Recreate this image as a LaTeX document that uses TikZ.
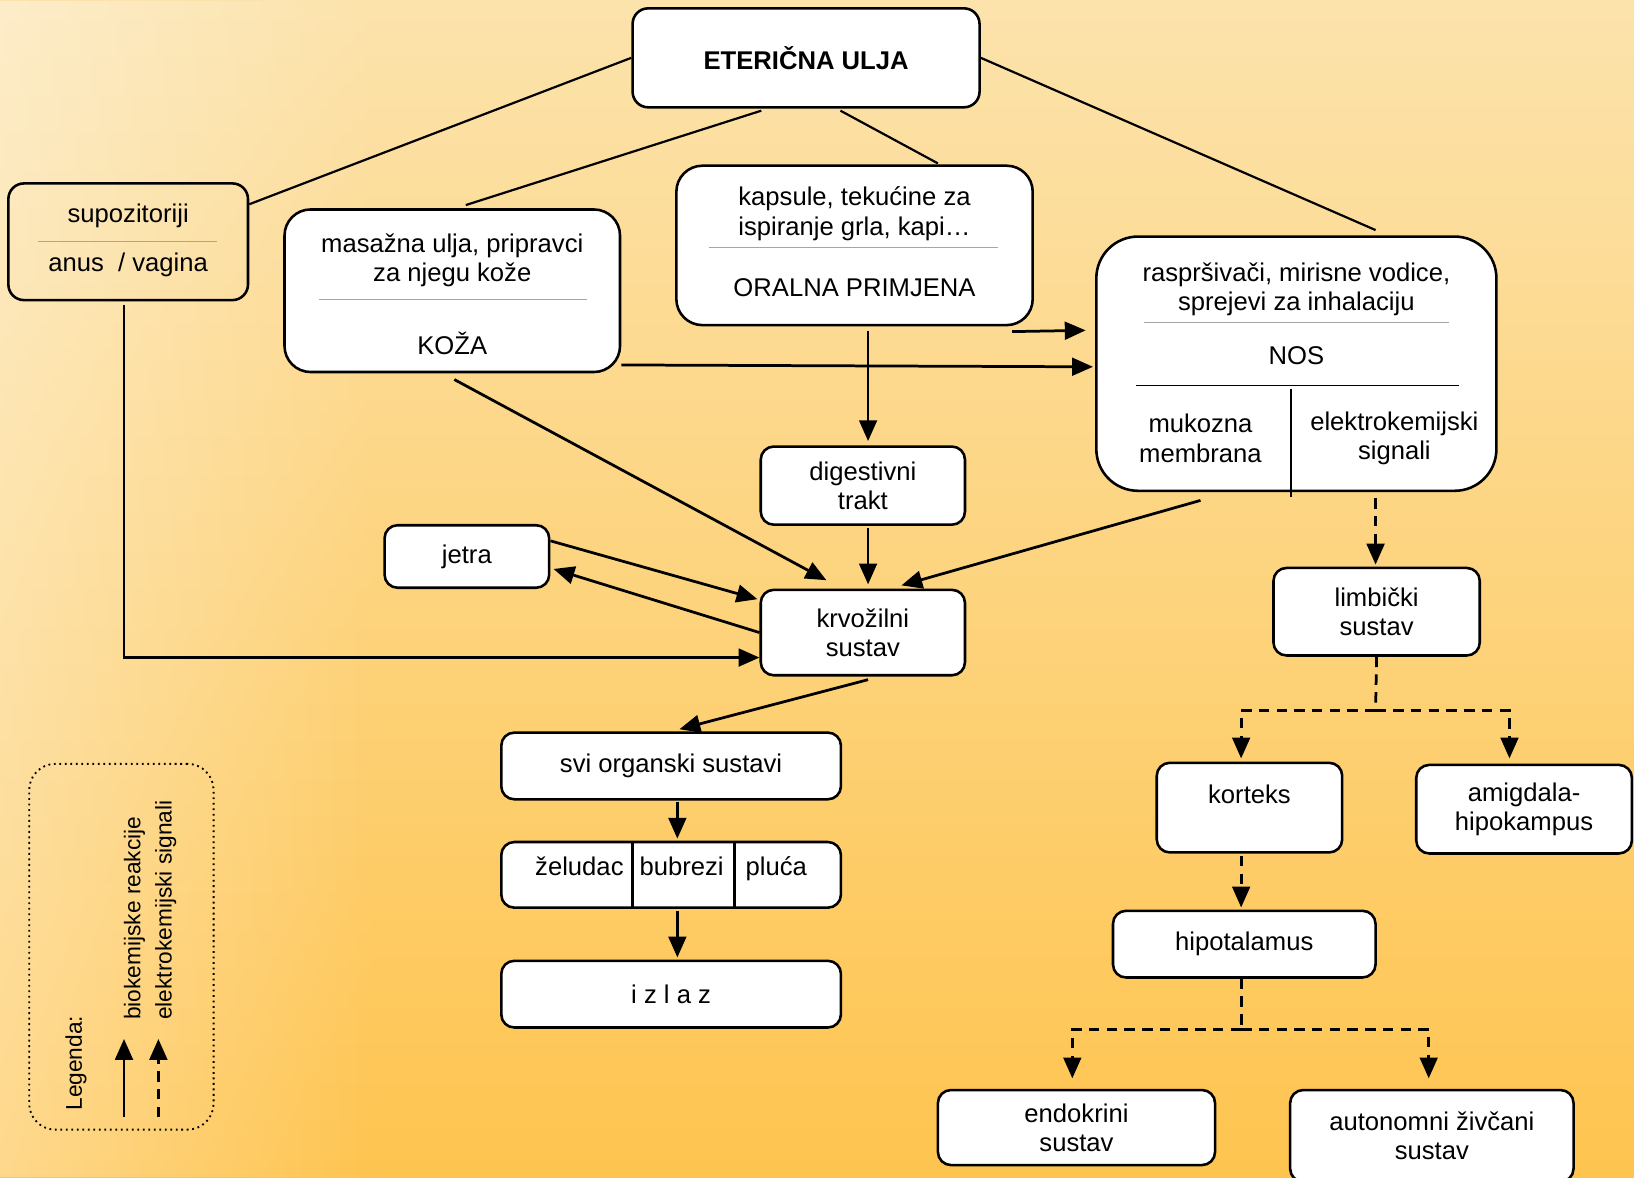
\documentclass[tikz,border=0pt]{standalone}
\usepackage{fontspec}
\setmainfont{Liberation Sans}
\usetikzlibrary{arrows.meta,positioning,calc,fadings}
\definecolor{bgtop}{HTML}{FCE3AC}
\definecolor{bgmid}{HTML}{FDD077}
\definecolor{bgbot}{HTML}{FEC44F}
\newcommand{\diafont}{\fontsize{14}{16}\selectfont}
\newcommand{\legfont}{\fontsize{12.4}{14}\selectfont}

\begin{document}
\begin{tikzpicture}[
  x=0.02cm, y=-0.02cm,
  box/.style={rectangle, draw, line width=1.4pt, fill=white, rounded corners=0.25cm,
    align=center, inner sep=0pt, font=\diafont},
  txt/.style={align=center, inner sep=0pt, font=\diafont},
  cell/.style={txt, text height=1.6ex, text depth=0.4ex},
  sep/.style={gray!70, line width=0.4pt},
  link/.style={line width=1.2pt},
  arr/.style={-{Triangle[length=0.4cm, width=0.34cm]}, line width=1.5pt},
  darr/.style={arr, dash pattern=on 0.2cm off 0.14cm}
]

% Background
\useasboundingbox (0,0) rectangle (1568,1129.5);
\fill[top color=bgtop, middle color=bgmid, bottom color=bgbot] (0,0) rectangle (1568,1129.5);
\fill[white, path fading=east, fill opacity=0.35] (0,0) rectangle (360,1129.5);

% Top
\node[box, rounded corners=0.3cm, minimum width=6.66cm, minimum height=1.9cm,
  font=\diafont\bfseries] (eter) at (773.5,55.5) {ETERIČNA ULJA};

% Routes of application
\node[box, fill=none, rounded corners=0.3cm, minimum width=4.6cm, minimum height=2.24cm] (supo) at (123,232) {};
\node[txt] (supoA) at (123,207) {supozitoriji};
\draw[sep] (36,232) -- (208,232);
\node[txt] (supoB) at (123,254) {anus~ / vagina};

\node[box, rounded corners=0.5cm, minimum width=6.44cm, minimum height=3.12cm] (koza) at (434,279) {};
\node[txt] (kozaA) at (434,250) {masažna ulja, pripravci\\za njegu kože};
\draw[sep] (306,287) -- (563,287);
\node[txt] (kozaB) at (434,330) {KOŽA};

\node[box, rounded corners=0.5cm, minimum width=6.84cm, minimum height=3.06cm] (oral) at (820,235.5) {};
\node[txt] (oralA) at (820,205) {kapsule, tekućine za\\ispiranje grla, kapi…};
\draw[sep] (680,237) -- (958,237);
\node[txt] (oralB) at (820,276) {ORALNA PRIMJENA};

\node[box, rounded corners=0.8cm, minimum width=7.68cm, minimum height=4.88cm] (nos) at (1244,349) {};
\node[txt] (nosA) at (1244,277.5) {raspršivači, mirisne vodice,\\sprejevi za inhalaciju};
\draw[sep] (1098,309) -- (1390,309);
\node[txt] (nosB) at (1244,341) {NOS};
\draw[line width=0.8pt] (1090,370) -- (1400,370);
\draw[line width=1.2pt] (1239,373) -- (1239,477);
\node[txt] (nosC) at (1152,420.5) {mukozna\\membrana};
\node[txt] (nosD) at (1338,420.5) {elektrokemijski\\signali};

% Body
\node[box, minimum width=3.92cm, minimum height=1.5cm] (dig) at (828,466) {digestivni\\trakt};
\node[box, minimum width=3.16cm, minimum height=1.2cm] (jetra) at (448,534) {jetra};
\node[box, minimum width=3.92cm, minimum height=1.64cm] (krv) at (828,607) {krvožilni\\sustav};
\node[box, minimum width=6.52cm, minimum height=1.28cm] (svi) at (644,735) {svi organski sustavi};
\node[box, minimum width=6.52cm, minimum height=1.26cm] (org) at (644,839.5) {};
\node[cell] (zel) at (556,835) {želudac};
\node[cell] (bub) at (654,835) {bubrezi};
\node[cell] (plu) at (745,835) {pluća};
\draw[line width=1.4pt] (607,808) -- (607,871);
\draw[line width=1.4pt] (705,808) -- (705,871);
\node[box, minimum width=6.52cm, minimum height=1.28cm] (izlaz) at (644,954) {i z l a z};

% Brain
\node[box, minimum width=3.96cm, minimum height=1.68cm] (limb) at (1321,587) {limbički\\sustav};
\node[box, minimum width=3.56cm, minimum height=1.72cm] (kort) at (1199,775) {};
\node[txt] (kortA) at (1199,762) {korteks};
\node[box, minimum width=4.14cm, minimum height=1.7cm] (amig) at (1462.5,776.5) {amigdala-\\hipokampus};
\node[box, minimum width=5.04cm, minimum height=1.28cm] (hipo) at (1194,906) {hipotalamus};
\node[box, minimum width=5.32cm, minimum height=1.44cm] (endo) at (1033,1082) {endokrini\\sustav};
\node[box, minimum width=5.44cm, minimum height=1.76cm] (auto) at (1374,1090) {autonomni živčani\\sustav};

% Links from the top
\draw[link] (eter.west) -- ($(supo.east)+(0,-36)$);
\draw[link] ($(eter.south)+(-43,2)$) -- ($(koza.north)+(13,-3)$);
\draw[link] ($(eter.south)+(33,2)$) -- ($(oral.north)+(80,-1)$);
\draw[link] (eter.east) -- ($(nos.north)+(76,-5)$);

% Biochemical paths
\draw[arr] ($(supo.south)+(-4,3)$) |- ($(krv.west)+(0,24)$);
\draw[arr] ($(oral.south east)+(-21,5)$) -- ($(nos.west)+(-9,-32)$);
\draw[arr] ($(koza.south east)+(0,-8)$) -- ($(nos.west)+(-2,3)$);
\draw[arr] ($(oral.south)+(13,4)$) -- ($(dig.north)+(5,-4)$);
\draw[arr] ($(koza.south)+(2,6)$) -- ($(krv.north)+(-35,-8)$);
\draw[arr] ($(dig.south)+(5,2)$) -- ($(krv.north)+(5,-4)$);
\draw[arr] ($(nos.south)+(-92,8)$) -- ($(krv.north)+(37,-3)$);
\draw[arr] ($(jetra.east)+(0,-15)$) -- ($(krv.west)+(-2,-32)$);
\draw[arr] (krv.west) -- ($(jetra.east)+(3,12)$);
\draw[arr] ($(krv.south)+(5,3)$) -- ($(svi.north)+(8,-2)$);
\draw[arr] ($(svi.south)+(6,1)$) -- ($(org.north)+(6,-2)$);
\draw[arr] ($(org.south)+(6,2)$) -- ($(izlaz.north)+(6,-2)$);

% Electrochemical paths
\coordinate (split1) at (1320,682);
\coordinate (split2) at (1191,988);
\draw[darr] ($(nos.south)+(76,6)$) -- ($(limb.north)+(-1,-2)$);
\draw[darr, -] (limb.south) -- (split1);
\draw[darr] (split1) -| ($(kort.north)+(-8,-3)$);
\draw[darr] (split1) -| ($(amig.north)+(-14,-5)$);
\draw[darr] ($(kort.south)+(-8,2)$) -- ($(hipo.north)+(-3,-2)$);
\draw[darr, -] ($(hipo.south)+(-3,0)$) -- (split2);
\draw[darr] (split2) -| ($(endo.north)+(-4,-10)$);
\draw[darr] (split2) -| ($(auto.north)+(-3,-10)$);

% Legend
\node[draw, dotted, line width=1pt, rounded corners=0.5cm, minimum width=3.54cm,
  minimum height=7.02cm] (legend) at (116.5,908.5) {};
\coordinate (lgA) at (119,1072);
\coordinate (lgB) at (119,997);
\coordinate (lgC) at (152,1072);
\coordinate (lgD) at (152,997);
\draw[arr] (lgA) -- (lgB);
\draw[darr] (lgC) -- (lgD);
\node[txt, font=\legfont, rotate=90, anchor=west] (legT) at (73,1066) {Legenda:};
\node[txt, font=\legfont, rotate=90, anchor=west] (legB) at (129,979) {biokemijske reakcije};
\node[txt, font=\legfont, rotate=90, anchor=west] (legE) at (159,979) {elektrokemijski signali};

\end{tikzpicture}
\end{document}
